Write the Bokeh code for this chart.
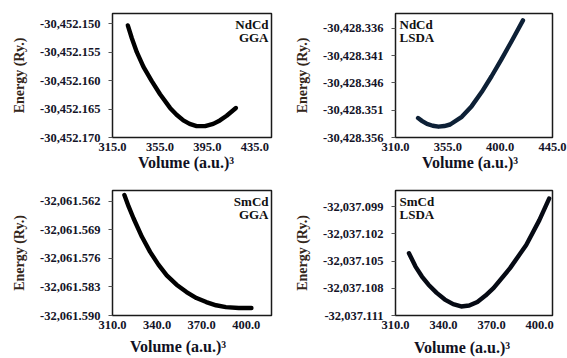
from bokeh.plotting import figure
from bokeh.layouts import gridplot
from bokeh.models import Range1d, FixedTicker, NumeralTickFormatter, Label
from bokeh.embed import file_html
from bokeh.resources import INLINE

# ---------------- data ----------------
nd_gga_vol = [327.9, 331.3, 335.5, 341.1, 348.1, 355.1, 363.5, 369.0, 374.7, 380.0, 385.9, 393.0,
              399.9, 405.5, 411.2, 419.0]
nd_gga_e = [-30452.15029, -30452.15255, -30452.15500, -30452.15760, -30452.16010, -30452.16240,
            -30452.16480, -30452.16600, -30452.16700, -30452.16760, -30452.16800, -30452.16800,
            -30452.16760, -30452.16700, -30452.16618, -30452.16482]

nd_lsda_vol = [329.4, 333.0, 337.1, 342.0, 347.0, 352.0, 357.0, 367.0, 375.5, 384.1, 392.6, 401.2,
               409.7, 419.6]
nd_lsda_e = [-30428.35244, -30428.35300, -30428.35352, -30428.35385, -30428.35402, -30428.35390,
             -30428.35362, -30428.35222, -30428.35026, -30428.34768, -30428.34479, -30428.34165,
             -30428.33842, -30428.33456]

sm_gga_vol = [318.0, 320.9, 324.2, 329.8, 335.3, 340.9, 346.5, 353.1, 359.8, 366.5, 373.1, 379.7,
              386.3, 395.0, 403.5]
sm_gga_e = [-32061.56052, -32061.56337, -32061.56625, -32061.57074, -32061.57443, -32061.57755,
            -32061.58017, -32061.58246, -32061.58425, -32061.58572, -32061.58671, -32061.58750,
            -32061.58794, -32061.58815, -32061.58818]

sm_lsda_vol = [318.4, 322.5, 326.5, 330.6, 335.7, 340.8, 346.0, 351.0, 356.0, 361.1, 366.2, 371.3,
               381.5, 391.6, 399.8, 405.9]
sm_lsda_e = [-32037.10412, -32037.10560, -32037.10670, -32037.10760, -32037.10850, -32037.10924,
             -32037.10975, -32037.11000, -32037.10990, -32037.10950, -32037.10880, -32037.10796,
             -32037.10577, -32037.10321, -32037.10047, -32037.09809]

nd_gga_xticks = [315.0, 355.0, 395.0, 435.0]
nd_gga_yticks = [-30452.170, -30452.165, -30452.160, -30452.155, -30452.150]
nd_lsda_xticks = [310.0, 355.0, 400.0, 445.0]
nd_lsda_yticks = [-30428.356, -30428.351, -30428.346, -30428.341, -30428.336]
sm_gga_xticks = [310.0, 340.0, 370.0, 400.0]
sm_gga_yticks = [-32061.590, -32061.583, -32061.576, -32061.569, -32061.562]
sm_lsda_xticks = [310.0, 340.0, 370.0, 400.0]
sm_lsda_yticks = [-32037.111, -32037.108, -32037.105, -32037.102, -32037.099]

nd_gga_xrange = (315.0, 449.0)
nd_gga_yrange = (-30452.170, -30452.1482)
nd_lsda_xrange = (310.0, 445.0)
nd_lsda_yrange = (-30428.356, -30428.3333)
sm_gga_xrange = (310.0, 417.0)
sm_gga_yrange = (-32061.590, -32061.5594)
sm_lsda_xrange = (310.0, 408.0)
sm_lsda_yrange = (-32037.111, -32037.0972)

labels = [("NdCd", "GGA"), ("NdCd", "LSDA"), ("SmCd", "GGA"), ("SmCd", "LSDA")]
x_title = "Volume (a.u.)³"
y_title = "Energy (Ry.)"

FONT = "Liberation Serif"
TICK_COLOR = "#141428"
YLAB_COLOR = "#33261a"
NBSP = "\u00a0"


def panel(vol, e, xr, yr, xt, yt, lab, color, width, height, borders, right_label,
          xlab_standoff, xlab_pad):
    p = figure(width=width, height=height, output_backend="svg", toolbar_location=None,
               x_range=Range1d(*xr), y_range=Range1d(*yr),
               min_border_left=borders[0], min_border_right=borders[1],
               min_border_top=borders[2], min_border_bottom=borders[3])
    p.line(vol, e, line_color=color, line_width=4.4, line_cap="round", line_join="round")
    p.xgrid.visible = False
    p.ygrid.visible = False
    p.outline_line_color = "#1a1a1a"
    p.outline_line_width = 1.5
    p.background_fill_color = "white"
    p.border_fill_color = "white"

    p.xaxis.ticker = FixedTicker(ticks=xt)
    p.yaxis.ticker = FixedTicker(ticks=yt)
    p.xaxis.formatter = NumeralTickFormatter(format="0.0")
    p.yaxis.formatter = NumeralTickFormatter(format="0,0.000")
    for ax in (p.xaxis[0], p.yaxis[0]):
        ax.axis_line_color = None
        ax.minor_tick_line_color = None
        ax.major_label_text_font = FONT
        ax.major_label_text_font_style = "bold"
        ax.major_label_text_font_size = "12.5px"
        ax.major_label_text_color = TICK_COLOR
        ax.axis_label_text_font = FONT
        ax.axis_label_text_font_style = "bold"
    p.xaxis.major_tick_out = 0
    p.xaxis.major_tick_in = 0
    p.xaxis.major_label_standoff = 5
    p.yaxis.major_tick_out = 4
    p.yaxis.major_tick_in = 0
    p.yaxis.major_tick_line_color = "#555555"
    p.yaxis.major_label_standoff = 8

    # trailing no-break spaces nudge the centred title slightly left, as in the original
    p.xaxis.axis_label = x_title + NBSP * xlab_pad
    p.xaxis.axis_label_text_font_size = "16px"
    p.xaxis.axis_label_text_color = "#111122"
    p.xaxis.axis_label_standoff = xlab_standoff

    p.yaxis.axis_label = y_title
    p.yaxis.axis_label_text_font_size = "14px"
    p.yaxis.axis_label_text_color = YLAB_COLOR
    p.yaxis.axis_label_standoff = 10

    if right_label:
        lx, align, lxo = xr[1], "right", -3
    else:
        lx, align, lxo = xr[0], "left", 4
    for i, t in enumerate(lab):
        p.add_layout(Label(x=lx, y=yr[1], x_offset=lxo, y_offset=-3 - 13 * i, text=t,
                           text_align=align, text_baseline="top", text_font=FONT,
                           text_font_style="bold", text_font_size="13px", text_color="#111111"))
    return p


p1 = panel(nd_gga_vol, nd_gga_e, nd_gga_xrange, nd_gga_yrange, nd_gga_xticks, nd_gga_yticks,
           labels[0], "#000000", 283, 178, (112, 12, 13, 41), True, 0, 3)
p2 = panel(nd_lsda_vol, nd_lsda_e, nd_lsda_xrange, nd_lsda_yrange, nd_lsda_xticks, nd_lsda_yticks,
           labels[1], "#0d2036", 284, 178, (112, 15, 13, 41), False, 0, 2)
p3 = panel(sm_gga_vol, sm_gga_e, sm_gga_xrange, sm_gga_yrange, sm_gga_xticks, sm_gga_yticks,
           labels[2], "#000000", 283, 180, (112, 11, 12, 43), True, 6, 7)
p4 = panel(sm_lsda_vol, sm_lsda_e, sm_lsda_xrange, sm_lsda_yrange, sm_lsda_xticks, sm_lsda_yticks,
           labels[3], "#060a14", 284, 180, (112, 12, 12, 42), False, 7, 6)

grid = gridplot([[p1, p2], [p3, p4]], toolbar_location=None)

open("out.html", "w").write(file_html(grid, INLINE))
